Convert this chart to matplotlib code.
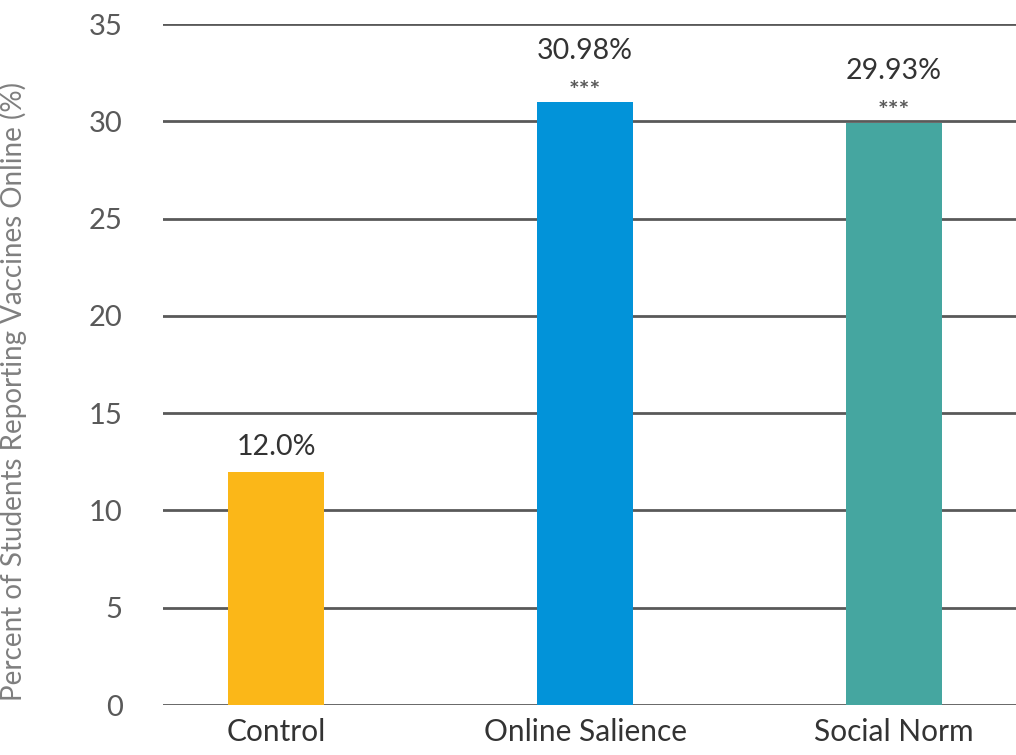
import matplotlib
matplotlib.use("Agg")
import matplotlib.pyplot as plt

categories = ["Control", "Online Salience", "Social Norm"]
values = [12.0, 30.98, 29.93]
value_labels = ["12.0%", "30.98%", "29.93%"]
significance = ["", "***", "***"]
colors = ["#FBB718", "#0293D9", "#45A6A0"]
y_ticks = [0, 5, 10, 15, 20, 25, 30, 35]

plt.rcParams["font.family"] = ["Lato", "DejaVu Sans"]

fig = plt.figure(figsize=(10.16, 7.55), dpi=100)
ax = fig.add_axes([0.1604, 0.0662, 0.8396, 0.9020])

x = list(range(len(categories)))
ax.bar(x, values, width=0.311, color=colors, zorder=3)

ax.set_ylim(0, 35)
ax.set_xlim(-0.366, 2.395)
ax.set_yticks(y_ticks)
ax.yaxis.grid(True, color="#595959", linewidth=2.0, zorder=1)
ax.set_axisbelow(True)
for s in ["top", "right", "left", "bottom"]:
    ax.spines[s].set_visible(False)

ax.tick_params(axis="y", length=0, pad=29, labelsize=21, labelcolor="#595959")
ax.tick_params(axis="x", length=0, pad=9, labelsize=21.5, labelcolor="#333333")
ax.set_xticks(x)
ax.set_xticklabels(categories)

ax.set_ylabel("Percent of Students Reporting Vaccines Online (%)", fontsize=20,
              color="#7f7f7f")
ax.yaxis.set_label_coords(-0.159, 0.46)

for xi, v, lab, sig in zip(x, values, value_labels, significance):
    if sig:
        ax.annotate(sig, (xi, v), xytext=(0, 8), textcoords="offset points",
                    ha="center", va="center", fontsize=18, color="#595959",
                    fontweight="bold")
        ax.annotate(lab, (xi, v), xytext=(0, 37), textcoords="offset points",
                    ha="center", va="center", fontsize=20.5, color="#333333")
    else:
        ax.annotate(lab, (xi, v), xytext=(0, 18), textcoords="offset points",
                    ha="center", va="center", fontsize=20.5, color="#333333")

fig.savefig("out.png", dpi=100)
